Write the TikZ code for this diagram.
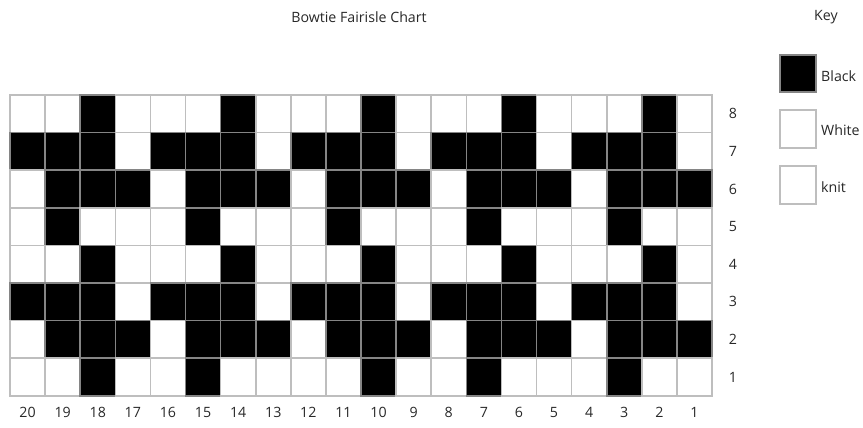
\documentclass[tikz,border=0pt]{standalone}
\usepackage{fontspec}
\setmainfont{Open Sans}
\definecolor{gridgray}{RGB}{190,190,190}
\definecolor{txt}{RGB}{40,40,40}
\tikzset{
  cell/.style={draw=gridgray, line width=1.6pt, fill=white},
  blackcell/.style={draw=gridgray!70!black, line width=1.6pt, fill=black},
  lab/.style={text=txt, font=\fontsize{14.2}{16}\selectfont, inner sep=0pt},
}
\begin{document}
\begin{tikzpicture}[x=1pt,y=-1pt]
\useasboundingbox (0,0) rectangle (863,428);
\def\cw{35.1}
\def\rh{37.6}
% rows listed from top (row 8) to bottom (row 1); columns from left (label 20) to right (label 1)
\foreach \row/\pat in {
  0/{0,0,1,0,0,0,1,0,0,0,1,0,0,0,1,0,0,0,1,0},
  1/{1,1,1,0,1,1,1,0,1,1,1,0,1,1,1,0,1,1,1,0},
  2/{0,1,1,1,0,1,1,1,0,1,1,1,0,1,1,1,0,1,1,1},
  3/{0,1,0,0,0,1,0,0,0,1,0,0,0,1,0,0,0,1,0,0},
  4/{0,0,1,0,0,0,1,0,0,0,1,0,0,0,1,0,0,0,1,0},
  5/{1,1,1,0,1,1,1,0,1,1,1,0,1,1,1,0,1,1,1,0},
  6/{0,1,1,1,0,1,1,1,0,1,1,1,0,1,1,1,0,1,1,1},
  7/{0,0,1,0,0,1,0,0,0,0,1,0,0,1,0,0,0,1,0,0}}{
  \foreach \v [count=\c from 0] in \pat {
    \ifnum\v=1
      \draw[blackcell] ({10+\c*\cw},{95+\row*\rh}) rectangle ++(\cw,\rh);
    \else
      \draw[cell] ({10+\c*\cw},{95+\row*\rh}) rectangle ++(\cw,\rh);
    \fi
  }
}
% row labels
\foreach \r in {1,...,8} {
  \node[lab] (r\r) at (733,{95+(8-\r+0.5)*\rh}) {\r};
}
% column labels
\foreach \c in {0,...,19} {
  \pgfmathtruncatemacro{\lbl}{20-\c}
  \node[lab] (c\lbl) at ({10+(\c+0.5)*\cw},412) {\lbl};
}
% title and key
\node[lab] (title) at (359,17) {Bowtie Fairisle Chart};
\node[lab] (key) at (826,17) {Key};
\draw[blackcell] (780,55) rectangle (816,92);
\node[lab, anchor=west] (kblack) at (821,76) {Black};
\draw[cell] (780,110) rectangle (816,148);
\node[lab, anchor=west] (kwhite) at (821,130) {White};
\draw[cell] (780,166) rectangle (816,204);
\node[lab, anchor=west] (kknit) at (821,187) {knit};
\end{tikzpicture}
\end{document}
